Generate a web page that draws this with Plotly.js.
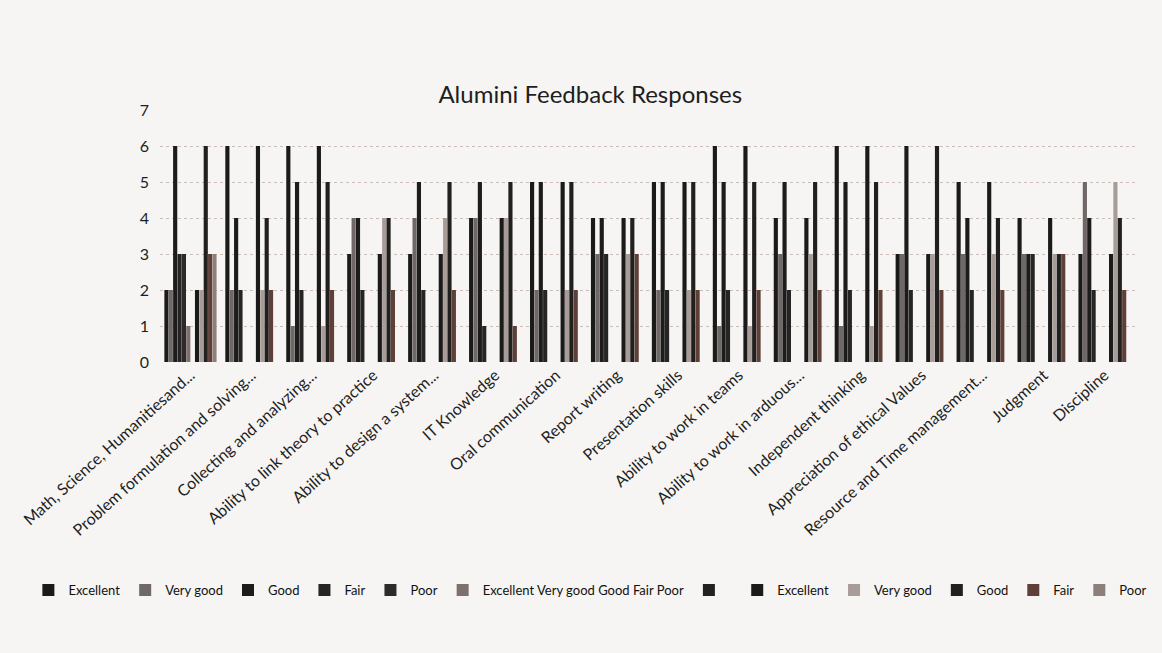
<!DOCTYPE html>
<html>
<head>
<meta charset="utf-8">
<script src="https://cdn.plot.ly/plotly-3.0.1.min.js"></script>
<style>
  html, body { margin: 0; padding: 0; background: #f6f5f3; }
  #chart { width: 1162px; height: 653px; }
</style>
</head>
<body>
<div id="chart"></div>
<script>
// Categories (x axis)
const categories = [
  "Math, Science, Humanitiesand...",
  "Problem formulation and solving...",
  "Collecting and analyzing...",
  "Ability to link theory to practice",
  "Ability to design a system...",
  "IT Knowledge",
  "Oral communication",
  "Report writing",
  "Presentation skills",
  "Ability to work in teams",
  "Ability to work in arduous...",
  "Independent thinking",
  "Appreciation of ethical Values",
  "Resource and Time management...",
  "Judgment",
  "Discipline"
];

// First set of series
const excellent1 = [2, 6, 6, 3, 3, 4, 5, 4, 5, 6, 4, 6, 3, 5, 4, 3];
const veryGood1  = [2, 2, 1, 4, 4, 4, 2, 3, 2, 1, 3, 1, 3, 3, 3, 5];
const good1      = [6, 4, 5, 4, 5, 5, 5, 4, 5, 5, 5, 5, 6, 4, 3, 4];
const fair1      = [3, 2, 2, 2, 2, 1, 2, 3, 2, 2, 2, 2, 2, 2, 3, 2];
const poor1      = [3, 0, 0, 0, 0, 0, 0, 0, 0, 0, 0, 0, 0, 0, 0, 0];
// Header-row series and blank series
const combined    = [1, 0, 0, 0, 0, 0, 0, 0, 0, 0, 0, 0, 0, 0, 0, 0];
const blankSeries = [0, 0, 0, 0, 0, 0, 0, 0, 0, 0, 0, 0, 0, 0, 0, 0];
// Second set of series
const excellent2 = [2, 6, 6, 3, 3, 4, 5, 4, 5, 6, 4, 6, 3, 5, 4, 3];
const veryGood2  = [2, 2, 1, 4, 4, 4, 2, 3, 2, 1, 3, 1, 3, 3, 3, 5];
const good2      = [6, 4, 5, 4, 5, 5, 5, 4, 5, 5, 5, 5, 6, 4, 3, 4];
const fair2      = [3, 2, 2, 2, 2, 1, 2, 3, 2, 2, 2, 2, 2, 2, 3, 2];
const poor2      = [3, 0, 0, 0, 0, 0, 0, 0, 0, 0, 0, 0, 0, 0, 0, 0];

const seriesNames = ["Excellent", "Very good", "Good", "Fair", "Poor",
  "Excellent Very good Good Fair Poor", " ",
  "Excellent", "Very good", "Good", "Fair", "Poor"];
const seriesValues = [excellent1, veryGood1, good1, fair1, poor1,
  combined, blankSeries,
  excellent2, veryGood2, good2, fair2, poor2];
const seriesColors = ["#1b1a1a", "#6f6866", "#1d1c1c", "#262424", "#2e2a2a",
  "#7d716d", "#222020",
  "#1b1a1a", "#a89c98", "#221f1f", "#5e4038", "#8f7f7b"];

const traces = seriesValues.map((vals, i) => ({
  type: "bar",
  name: seriesNames[i],
  x: categories,
  y: vals,
  marker: { color: seriesColors[i], line: { width: 0 } },
  hoverinfo: "x+y+name"
}));

const layout = {
  width: 1162,
  height: 653,
  paper_bgcolor: "#f6f5f3",
  plot_bgcolor: "#f6f5f3",
  margin: { l: 160, r: 27, t: 110, b: 291 },
  font: { family: "Lato, 'Open Sans', sans-serif", color: "#1e1e1e" },
  title: {
    text: "Alumini Feedback Responses",
    font: { family: "Lato, sans-serif", size: 24, color: "#1e1e1e" },
    x: 0.508, xref: "container", xanchor: "center",
    y: 0.855, yref: "container", yanchor: "middle"
  },
  barmode: "group",
  bargap: 0.14,
  bargroupgap: 0.05,
  showlegend: true,
  legend: {
    orientation: "h",
    x: -0.135, xref: "paper", xanchor: "left",
    y: -0.905, yref: "paper", yanchor: "middle",
    font: { family: "Lato, sans-serif", size: 13, color: "#111" },
    itemwidth: 30,
    traceorder: "normal",
    bgcolor: "rgba(0,0,0,0)"
  },
  xaxis: {
    type: "category",
    tickangle: -42,
    tickfont: { family: "Lato, sans-serif", size: 16, color: "#1e1e1e" },
    showgrid: false,
    showline: false,
    zeroline: false,
    ticks: "",
    automargin: false
  },
  yaxis: {
    range: [0, 7],
    dtick: 1,
    tickfont: { family: "Lato, sans-serif", size: 16, color: "#1e1e1e" },
    showgrid: true,
    gridcolor: "#cbbdb8",
    griddash: "dot",
    gridwidth: 1,
    zeroline: false,
    showline: false,
    ticks: "",
    ticklabelstandoff: 10,
    automargin: false
  }
};

Plotly.newPlot("chart", traces, layout, { displayModeBar: false, staticPlot: true });
</script>
</body>
</html>
